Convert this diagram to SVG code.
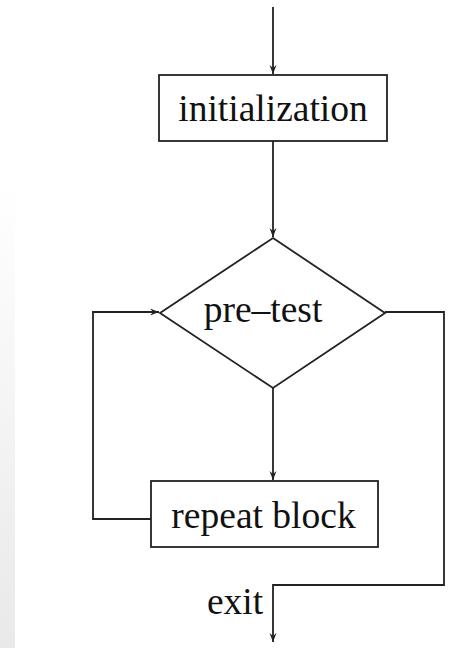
<svg xmlns="http://www.w3.org/2000/svg" width="463" height="648" viewBox="0 0 463 648">
<style>
.box{fill:#fff;stroke:#222;stroke-width:1.8}
.ln{fill:none;stroke:#222;stroke-width:1.8}
.lbl{font-family:"Liberation Serif","Times New Roman",serif;font-size:37.5px;fill:#111;text-anchor:middle}
</style>
<defs>
<linearGradient id="bg" x1="0" y1="0" x2="0" y2="1">
<stop offset="0" stop-color="#ffffff"/>
<stop offset="1" stop-color="#e9e9e9"/>
</linearGradient>
<marker id="ah" viewBox="-10 -5 12 10" markerWidth="12" markerHeight="10" refX="0" refY="0" orient="auto" markerUnits="userSpaceOnUse">
<path d="M0,0 L-9,-3.5 L-6,0 L-9,3.5 Z" fill="#222"/>
</marker>
</defs>
<rect x="0" y="184" width="15" height="464" fill="url(#bg)"/>
<g id="connectors">
<path class="ln" d="M273,7 V74" marker-end="url(#ah)"/>
<path class="ln" d="M273,141 V237" marker-end="url(#ah)"/>
<path class="ln" d="M273,388 V480" marker-end="url(#ah)"/>
<path class="ln" d="M151,519 H93 V312 H159" marker-end="url(#ah)"/>
<path class="ln" d="M385,312 H444 V585 H273 V642" marker-end="url(#ah)"/>
</g>
<g id="init">
<rect class="box" x="159" y="75" width="228" height="66"/>
<text class="lbl" x="273" y="121">initialization</text>
</g>
<g id="pretest">
<polygon class="box" points="273,238 385,313 273,388 160,313"/>
<text class="lbl" x="263" y="322">pre–test</text>
</g>
<g id="repeat">
<rect class="box" x="151" y="481" width="227" height="66"/>
<text class="lbl" x="263.5" y="528">repeat block</text>
</g>
<g id="exit">
<text class="lbl" x="235" y="614">exit</text>
</g>
</svg>
